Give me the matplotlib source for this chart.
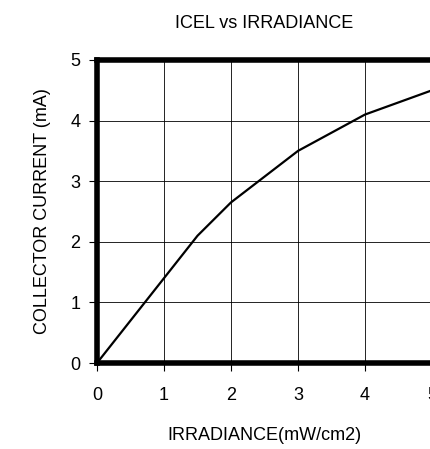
import matplotlib
matplotlib.use('Agg')
import matplotlib.pyplot as plt

# data
irradiance = [0, 1.5, 2, 3, 4, 5]
current = [0, 2.1, 2.65, 3.5, 4.1, 4.5]
ticks = [0, 1, 2, 3, 4, 5]

plt.rcParams['font.family'] = ['Liberation Sans', 'DejaVu Sans']

fig = plt.figure(figsize=(4.3, 4.49), dpi=100)
ax = fig.add_axes([97 / 430, 86 / 449, 335 / 430, 303 / 449])

ax.plot(irradiance, current, color='black', linewidth=1.6, clip_on=False)

ax.set_xlim(0, 5)
ax.set_ylim(0, 5)
ax.set_xticks(ticks)
ax.set_yticks(ticks)
ax.grid(True, color='black', linewidth=0.6)

for s in ax.spines.values():
    s.set_linewidth(4)
ax.tick_params(direction='out', length=6, width=0.8, labelsize=13)
ax.tick_params(axis='x', pad=11)
ax.tick_params(axis='y', pad=6)

ax.set_title('ICEL vs IRRADIANCE', fontsize=13, pad=23)
ax.set_xlabel('IRRADIANCE(mW/cm2)', fontsize=13, labelpad=17)
ax.set_ylabel('COLLECTOR CURRENT (mA)', fontsize=13, labelpad=14)

fig.savefig('out.png', dpi=100)
